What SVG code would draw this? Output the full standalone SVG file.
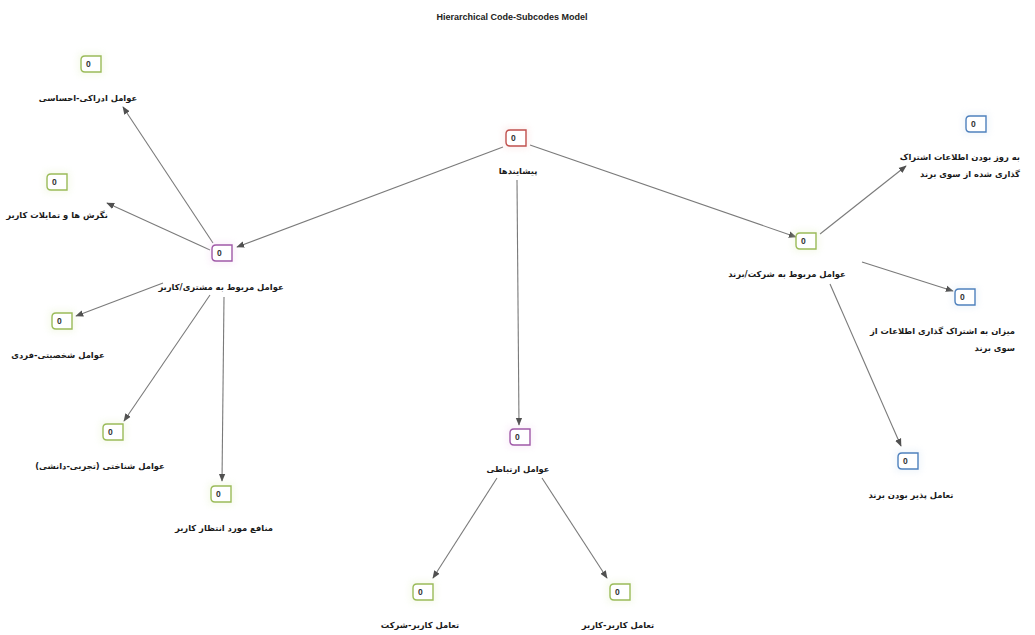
<svg xmlns="http://www.w3.org/2000/svg" xmlns:xlink="http://www.w3.org/1999/xlink" width="1035" height="635" viewBox="0 0 1035 635">
<style>
.title{font-family:"Liberation Sans",Arial,sans-serif;font-size:9px;font-weight:bold;fill:#222;}
.lbl{font-family:"DejaVu Sans",sans-serif;font-size:8.4px;font-weight:bold;fill:#1a1a1a;}
.num{font-family:"Liberation Sans",Arial,sans-serif;font-size:8.5px;font-weight:bold;fill:#333;}
.tag{fill:#fff;stroke-width:1.4;}
.halo{opacity:0.35;}
.edge{stroke:#7a7a7a;stroke-width:1.1;fill:none;marker-end:url(#arr);}
.g .tag{stroke:#9bbb59;} .g .halo{fill:#e4f0c8;}
.p .tag{stroke:#a05aa8;} .p .halo{fill:#f2d8f2;}
.r .tag{stroke:#c0504d;} .r .halo{fill:#f7d6d4;}
.b .tag{stroke:#4f81bd;} .b .halo{fill:#d6e4f4;}
</style>
<defs>
<marker id="arr" viewBox="0 0 10 10" refX="9" refY="5" markerWidth="8" markerHeight="8" orient="auto" markerUnits="userSpaceOnUse">
<path d="M0,1 L10,5 L0,9 Z" fill="#505050"/>
</marker>
<filter id="blur" x="-1" y="-1" width="3" height="3"><feGaussianBlur stdDeviation="3"/></filter>
<path id="tagshape" d="M-6,-8 H10 V8 H-6 Q-10,8 -10,4 V-4 Q-10,-8 -6,-8 Z"/>
</defs>
<rect width="1035" height="635" fill="#fff"/>
<text class="title" x="512" y="20" text-anchor="middle">Hierarchical Code-Subcodes Model</text>

<g id="connectors">
<line class="edge" x1="503" y1="147" x2="237" y2="247"/>
<line class="edge" x1="530" y1="145" x2="796" y2="237"/>
<line class="edge" x1="517" y1="180" x2="519" y2="425"/>
<line class="edge" x1="213" y1="243" x2="123" y2="107"/>
<line class="edge" x1="210" y1="250" x2="107" y2="203"/>
<line class="edge" x1="163" y1="283" x2="76" y2="316"/>
<line class="edge" x1="210" y1="295" x2="124" y2="421"/>
<line class="edge" x1="224" y1="297" x2="222" y2="481"/>
<line class="edge" x1="820" y1="234" x2="906" y2="166"/>
<line class="edge" x1="862" y1="262" x2="953" y2="291"/>
<line class="edge" x1="830" y1="284" x2="901" y2="446"/>
<line class="edge" x1="497" y1="478" x2="433" y2="578"/>
<line class="edge" x1="542" y1="478" x2="607" y2="578"/>
</g>

<g id="n-root" class="r" transform="translate(516,138)">
<rect class="halo" x="-13" y="-11" width="26" height="22" filter="url(#blur)"/>
<use class="tag" href="#tagshape"/><text class="num" x="-5" y="3">0</text>
<text class="lbl" x="2" y="36" text-anchor="middle">پیشایندها</text>
</g>

<g id="n-customer" class="p" transform="translate(222,253)">
<rect class="halo" x="-13" y="-11" width="26" height="22" filter="url(#blur)"/>
<use class="tag" href="#tagshape"/><text class="num" x="-5" y="3">0</text>
<text class="lbl" x="-1" y="37" text-anchor="middle">عوامل مربوط به مشتری/کاربر</text>
</g>

<g id="n-perceptual" class="g" transform="translate(91,64)">
<rect class="halo" x="-13" y="-11" width="26" height="22" filter="url(#blur)"/>
<use class="tag" href="#tagshape"/><text class="num" x="-5" y="3">0</text>
<text class="lbl" x="-3" y="37" text-anchor="middle">عوامل ادراکی-احساسی</text>
</g>

<g id="n-attitudes" class="g" transform="translate(57,182)">
<rect class="halo" x="-13" y="-11" width="26" height="22" filter="url(#blur)"/>
<use class="tag" href="#tagshape"/><text class="num" x="-5" y="3">0</text>
<text class="lbl" x="0" y="36" text-anchor="middle">نگرش ها و تمایلات کاربر</text>
</g>

<g id="n-personal" class="g" transform="translate(62,321)">
<rect class="halo" x="-13" y="-11" width="26" height="22" filter="url(#blur)"/>
<use class="tag" href="#tagshape"/><text class="num" x="-5" y="3">0</text>
<text class="lbl" x="-4" y="37" text-anchor="middle">عوامل شخصیتی-فردی</text>
</g>

<g id="n-cognitive" class="g" transform="translate(113,432)">
<rect class="halo" x="-13" y="-11" width="26" height="22" filter="url(#blur)"/>
<use class="tag" href="#tagshape"/><text class="num" x="-5" y="3">0</text>
<text class="lbl" x="-13" y="37" text-anchor="middle">عوامل شناختی (تجربی-دانشی)</text>
</g>

<g id="n-benefits" class="g" transform="translate(221,494)">
<rect class="halo" x="-13" y="-11" width="26" height="22" filter="url(#blur)"/>
<use class="tag" href="#tagshape"/><text class="num" x="-5" y="3">0</text>
<text class="lbl" x="3" y="37" text-anchor="middle">منافع مورد انتظار کاربر</text>
</g>

<g id="n-brand" class="g" transform="translate(806,241)">
<rect class="halo" x="-13" y="-11" width="26" height="22" filter="url(#blur)"/>
<use class="tag" href="#tagshape"/><text class="num" x="-5" y="3">0</text>
<text class="lbl" x="-19" y="36" text-anchor="middle">عوامل مربوط به شرکت/برند</text>
</g>

<g id="n-uptodate" class="b" transform="translate(976,124)">
<rect class="halo" x="-13" y="-11" width="26" height="22" filter="url(#blur)"/>
<use class="tag" href="#tagshape"/><text class="num" x="-5" y="3">0</text>
<text class="lbl" x="44" y="36" text-anchor="end">به روز بودن اطلاعات اشتراک</text>
<text class="lbl" x="44" y="53" text-anchor="end">گذاری شده از سوی برند</text>
</g>

<g id="n-sharing" class="b" transform="translate(965,297)">
<rect class="halo" x="-13" y="-11" width="26" height="22" filter="url(#blur)"/>
<use class="tag" href="#tagshape"/><text class="num" x="-5" y="3">0</text>
<text class="lbl" x="50" y="37" text-anchor="end">میزان به اشتراک گذاری اطلاعات از</text>
<text class="lbl" x="50" y="54" text-anchor="end">سوی برند</text>
</g>

<g id="n-interactive" class="b" transform="translate(908,461)">
<rect class="halo" x="-13" y="-11" width="26" height="22" filter="url(#blur)"/>
<use class="tag" href="#tagshape"/><text class="num" x="-5" y="3">0</text>
<text class="lbl" x="3" y="37" text-anchor="middle">تعامل پذیر بودن برند</text>
</g>

<g id="n-communication" class="p" transform="translate(520,437)">
<rect class="halo" x="-13" y="-11" width="26" height="22" filter="url(#blur)"/>
<use class="tag" href="#tagshape"/><text class="num" x="-5" y="3">0</text>
<text class="lbl" x="-2" y="35" text-anchor="middle">عوامل ارتباطی</text>
</g>

<g id="n-user-company" class="g" transform="translate(423,592)">
<rect class="halo" x="-13" y="-11" width="26" height="22" filter="url(#blur)"/>
<use class="tag" href="#tagshape"/><text class="num" x="-5" y="3">0</text>
<text class="lbl" x="-3" y="36" text-anchor="middle">تعامل کاربر-شرکت</text>
</g>

<g id="n-user-user" class="g" transform="translate(620,592)">
<rect class="halo" x="-13" y="-11" width="26" height="22" filter="url(#blur)"/>
<use class="tag" href="#tagshape"/><text class="num" x="-5" y="3">0</text>
<text class="lbl" x="-2" y="36" text-anchor="middle">تعامل کاربر-کاربر</text>
</g>
</svg>
